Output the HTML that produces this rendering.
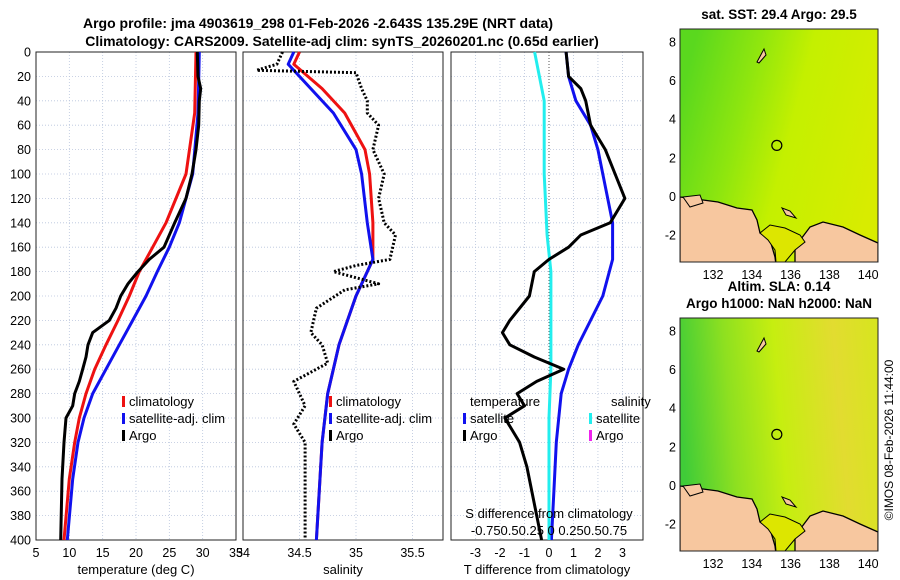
<!DOCTYPE html>
<html><head><meta charset="utf-8"><style>
body{margin:0;background:#fff;}
svg{display:block;font-family:"Liberation Sans","DejaVu Sans",sans-serif;}
</style></head><body>
<svg id="chart" width="900" height="580" viewBox="0 0 900 580">
<text x="318" y="28" text-anchor="middle" font-size="14" font-weight="bold">Argo profile: jma 4903619_298 01-Feb-2026 -2.643S 135.29E (NRT data)</text>
<text x="342" y="46" text-anchor="middle" font-size="14" font-weight="bold">Climatology: CARS2009. Satellite-adj clim: synTS_20260201.nc (0.65d earlier)</text>
<g id="plots"></g>
<g id="maps"></g>
<text transform="translate(893,440) rotate(-90)" text-anchor="middle" font-size="12">©IMOS 08-Feb-2026 11:44:00</text>
</svg>
<script>
// ---- data ----
const depths = [0,20,30,40,60,80,100,120,140,160,170,180,190,200,210,220,230,240,250,260,270,280,290,300,320,350,400];
const tempArgo = [29.2,29.3,29.7,29.5,29.4,29.0,28.4,27.5,25.8,24.2,22.0,20.3,18.8,17.7,17.0,16.0,13.5,12.8,12.5,12.0,11.5,10.8,10.5,9.5,9.2,8.9,8.7];
const climDepths = [0,50,100,140,160,180,200,220,240,260,280,300,320,350,400];
const tempClim = [29.0,28.8,27.5,24.5,22.5,20.5,19.0,17.3,15.5,13.8,12.5,11.5,10.8,10.0,9.2];
const tempSat = [29.5,29.3,28.5,26.5,25.0,23.2,21.5,19.5,17.5,15.5,13.5,12.2,11.3,10.5,9.7];
const salDepths = [0,10,15,17,30,40,50,60,80,100,120,140,150,170,175,180,190,195,210,230,240,255,270,290,305,320,350,400];
const salArgo = [34.35,34.3,34.12,35.0,35.05,35.1,35.1,35.2,35.15,35.25,35.2,35.25,35.35,35.3,35.0,34.8,35.2,34.9,34.65,34.6,34.7,34.75,34.45,34.55,34.45,34.55,34.55,34.55];
const salClimDepths = [0,10,30,50,80,100,140,170,180,200,240,280,320,400];
const salClim = [34.5,34.45,34.7,34.9,35.08,35.12,35.15,35.15,35.1,35.0,34.85,34.75,34.7,34.65];
const salSat = [34.45,34.4,34.6,34.8,35.0,35.05,35.1,35.15,35.1,35.0,34.85,34.75,34.7,34.65];
const dTDepths = [0,20,30,40,60,80,100,120,140,150,160,170,180,200,220,230,240,250,260,270,280,290,300,320,340,380,400];
const dTArgo = [0.7,0.8,1.3,1.5,1.7,2.3,2.7,3.1,2.5,1.3,0.8,0.0,-0.6,-0.8,-1.6,-1.9,-1.6,-0.6,0.6,-0.5,-1.3,-1.0,-1.8,-1.2,-0.9,-0.5,-0.3];
const dTSatDepths = [0,20,40,60,80,100,140,170,200,240,260,280,320,360,400];
const dTSat = [0.7,0.8,1.1,1.7,2.0,2.2,2.6,2.6,2.2,1.2,0.8,0.5,0.3,0.2,0.1];
const dSDepths = [0,20,40,60,100,150,180,200,260,300,400];
const dSSat = [-0.15,-0.1,-0.05,-0.05,-0.05,-0.02,0.02,0.02,0.02,0.0,0.0];
const depthTicks = [0,20,40,60,80,100,120,140,160,180,200,220,240,260,280,300,320,340,360,380,400];
const tempTicks = [5,10,15,20,25,30,35];
const salTicks = [34,34.5,35,35.5];
const dTTicks = [-3,-2,-1,0,1,2,3];

const NS='http://www.w3.org/2000/svg';
function mk(tag,attrs,parent){const e=document.createElementNS(NS,tag);for(const k in attrs)e.setAttribute(k,attrs[k]);parent.appendChild(e);return e;}
const plots=document.getElementById('plots');
const Y0=52,Y1=540;
const yS=d=>Y0+(d/400)*(Y1-Y0);

function panel(name,x0,x1,vmin,vmax,ticks,xlabel){
  const g=mk('g',{},plots);
  
  
  const xs=v=>x0+(v-vmin)/(vmax-vmin)*(x1-x0);
  depthTicks.forEach(d=>{const l=mk('line',{x1:x0,x2:x1,y1:yS(d),y2:yS(d),stroke:'#b8c4dc','stroke-width':0.8,'stroke-dasharray':'1,2'},g);
    
    });
  ticks.forEach(t=>{const X=xs(t);const l=mk('line',{x1:X,x2:X,y1:Y0,y2:Y1,stroke:'#b8c4dc','stroke-width':0.8,'stroke-dasharray':'1,2'},g);
    
    
    const tl=mk('text',{x:X,y:Y1+17,'text-anchor':'middle','font-size':12.5},g);tl.textContent=t;
    
    });
  const f=mk('rect',{x:x0,y:Y0,width:x1-x0,height:Y1-Y0,fill:'none',stroke:'#222','stroke-width':1},g);
  
  
  const xl=mk('text',{x:(x0+x1)/2,y:Y1+34,'text-anchor':'middle','font-size':13},g);xl.textContent=xlabel;
  
  
  return {g,xs};
}
function line(p,ds,vs,color,w,dash,name,xsOverride){
  const xs=xsOverride||p.xs;
  const pts=ds.map((d,i)=>xs(vs[i]).toFixed(1)+','+yS(d).toFixed(1)).join(' ');
  const l=mk('polyline',{points:pts,fill:'none',stroke:color,'stroke-width':w,'stroke-linejoin':'round'},p.g);
  if(dash)l.setAttribute('stroke-dasharray',dash);
  
  
}
function txt(g,x,y,s,name,size,anchor){const t=mk('text',{x:x,y:y,'font-size':size||13,'text-anchor':anchor||'start'},g);t.textContent=s;
  
  return t;}
function key(g,x,y,color,name){const r=mk('rect',{x:x,y:y-10,width:3,height:11,fill:color},g);
  
  }

// panel 1 temperature
const p1=panel('temperature-panel',36,236,5,35,tempTicks,'temperature (deg C)');
depthTicks.forEach(d=>{const t=mk('text',{x:31,y:yS(d)+4.5,'text-anchor':'end','font-size':12.5},p1.g);t.textContent=d;
  
  });
line(p1,climDepths,tempClim,'#ee1111',3,null,'temp-climatology-line');
line(p1,climDepths,tempSat,'#1111ee',3,null,'temp-satellite-line');
line(p1,depths,tempArgo,'#000',3,null,'temp-argo-line');
key(p1.g,122,406,'#ee1111','legend-climatology-key');txt(p1.g,129,406,'climatology','legend-climatology');
key(p1.g,122,423,'#1111ee','legend-satellite-key');txt(p1.g,129,423,'satellite-adj. clim','legend-satellite');
key(p1.g,122,440,'#000','legend-argo-key');txt(p1.g,129,440,'Argo','legend-argo');

// panel 2 salinity
const p2=panel('salinity-panel',243,443,34,35.77,salTicks,'salinity');
line(p2,salClimDepths,salClim,'#ee1111',3,null,'sal-climatology-line');
line(p2,salClimDepths,salSat,'#1111ee',3,null,'sal-satellite-line');
line(p2,salDepths,salArgo,'#000',3,'2,2','sal-argo-line');
key(p2.g,329,406,'#ee1111','legend-climatology-key');txt(p2.g,336,406,'climatology','legend-climatology');
key(p2.g,329,423,'#1111ee','legend-satellite-key');txt(p2.g,336,423,'satellite-adj. clim','legend-satellite');
key(p2.g,329,440,'#000','legend-argo-key');txt(p2.g,336,440,'Argo','legend-argo');

// panel 3 differences
const p3=panel('difference-panel',451,643,-4,3.84,dTTicks,'T difference from climatology');
const zl=mk('line',{x1:549,x2:549,y1:Y0,y2:Y1,stroke:'#555','stroke-width':1,'stroke-dasharray':'1,2'},p3.g);


const xsS=v=>549+v*96;
line(p3,dTSatDepths,dTSat,'#1111ee',3,null,'dt-satellite-line');
line(p3,dSDepths,dSSat,'#22eeee',3,null,'ds-satellite-line',xsS);
line(p3,dTDepths,dTArgo,'#000',3,null,'dt-argo-line');
txt(p3.g,470,406,'temperature','legend-temperature-title');
txt(p3.g,611,406,'salinity','legend-salinity-title');
key(p3.g,463,423,'#1111ee','legend-t-satellite-key');txt(p3.g,470,423,'satellite','legend-t-satellite');
key(p3.g,463,440,'#000','legend-t-argo-key');txt(p3.g,470,440,'Argo','legend-t-argo');
key(p3.g,589,423,'#22eeee','legend-s-satellite-key');txt(p3.g,596,423,'satellite','legend-s-satellite');
key(p3.g,589,440,'#ee22ee','legend-s-argo-key');txt(p3.g,596,440,'Argo','legend-s-argo');
txt(p3.g,549,518,'S difference from climatology','s-axis-title',13,'middle');
txt(p3.g,549,535,'-0.750.50.25 0 0.250.50.75','s-axis-ticks',13,'middle');

// ---- maps ----
const maps=document.getElementById('maps');
const lonTicks=[132,134,136,138,140];
const latTicks=[8,6,4,2,0,-2];
const MX0=680,MX1=878;
const lonX=l=>713+(l-132)*19.4;
const defs=mk('defs',{},maps);
function grad(id,stops,x1,y1,x2,y2){const gr=mk('linearGradient',{id:id,x1:x1,y1:y1,x2:x2,y2:y2},defs);
  stops.forEach(s=>mk('stop',{offset:s[0],'stop-color':s[1]},gr));}
grad('sst',[[0,'#5ad81e'],[0.3,'#8fe60e'],[0.55,'#c4f000'],[1,'#d8ec00']],0,0.3,1,0.6);
grad('sla',[[0,'#40cc38'],[0.25,'#8ee020'],[0.5,'#c6ee10'],[0.8,'#e2dc30'],[1,'#d8e420']],0,0.4,1,0.3);
const landPts='680,197 703,200 718,202 737,208 752,210 757,220 760,233 770,240 775,257 776,265 795,265 795,247 810,227 823,222 843,227 860,235 878,243 878,265 680,265';
function map(name,top,fillId,title,title2){
  const g=mk('g',{},maps);
  
  
  const H=233;
  const latY=l=>top+13+(8-l)*19.3;
  mk('rect',{x:MX0,y:top,width:MX1-MX0,height:H,fill:'url(#'+fillId+')'},g);
  const cp=mk('clipPath',{id:'cp'+top},defs);mk('rect',{x:MX0,y:29,width:MX1-MX0,height:H},cp);
  const lg=mk('g',{'clip-path':'url(#cp'+top+')',transform:'translate(0,'+(top-29)+')'},g);
  mk('polygon',{points:'680,230 700,232 712,245 700,262 680,262',fill:'#c8e400',stroke:'#000','stroke-width':1},lg);
  const land=mk('polygon',{points:landPts,fill:'#f7c79f',stroke:'#000','stroke-width':1.3},lg);
  
  
  mk('polygon',{points:'760,233 770,225 785,228 800,235 805,242 795,250 785,262 776,262 775,250 768,240',fill:'#dde600',stroke:'#000','stroke-width':1},lg);
  mk('polygon',{points:'782,208 790,211 796,218 786,215',fill:'#f7c79f',stroke:'#000','stroke-width':1},lg);
  mk('polygon',{points:'757,62 764,49 766,55 759,63',fill:'#f7c79f',stroke:'#000','stroke-width':1},lg);
  mk('polygon',{points:'683,197 700,195 703,203 690,207',fill:'#f7c79f',stroke:'#000','stroke-width':1},lg);
  mk('rect',{x:MX0,y:top,width:MX1-MX0,height:H,fill:'none',stroke:'#222','stroke-width':1},g);
  const c=mk('circle',{cx:lonX(135.29),cy:latY(2.643),r:5,fill:'none',stroke:'#000','stroke-width':1.2},g);
  
  
  lonTicks.forEach(l=>{const t=mk('text',{x:lonX(l),y:top+H+17,'text-anchor':'middle','font-size':12.5},g);t.textContent=l;
    
    });
  latTicks.forEach(l=>{const t=mk('text',{x:MX0-4,y:latY(l)+4.5,'text-anchor':'end','font-size':12.5},g);t.textContent=l;
    
    });
  const t1=mk('text',{x:779,y:top-10,'text-anchor':'middle','font-size':13.5,'font-weight':'bold'},g);t1.textContent=title;
  
  
  if(title2){const t2=mk('text',{x:779,y:top-27,'text-anchor':'middle','font-size':13.5,'font-weight':'bold'},g);t2.textContent=title2;
    
    }
}
map('sst-map',29,'sst','sat. SST: 29.4 Argo: 29.5');
map('sla-map',318,'sla','Argo h1000: NaN h2000: NaN','Altim. SLA: 0.14');
</script>
</body></html>
